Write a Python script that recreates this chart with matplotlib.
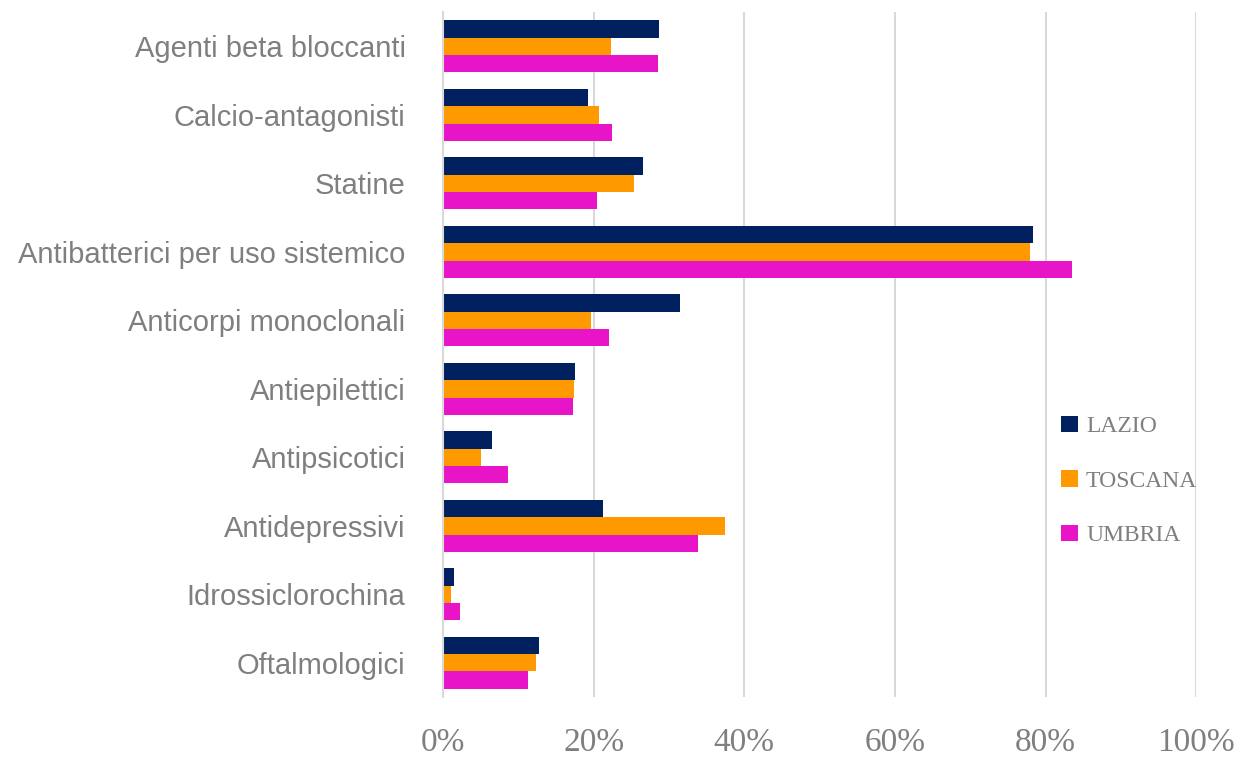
import numpy as np
import matplotlib.pyplot as plt
from matplotlib.ticker import PercentFormatter

categories = ['Agenti beta bloccanti', 'Calcio-antagonisti', 'Statine',
              'Antibatterici per uso sistemico', 'Anticorpi monoclonali',
              'Antiepilettici', 'Antipsicotici', 'Antidepressivi',
              'Idrossiclorochina', 'Oftalmologici']
lazio = [28.7, 19.3, 26.5, 78.4, 31.5, 17.5, 6.5, 21.3, 1.4, 12.7]
toscana = [22.3, 20.7, 25.3, 78.0, 19.6, 17.4, 5.1, 37.4, 1.0, 12.4]
umbria = [28.6, 22.5, 20.4, 83.5, 22.1, 17.3, 8.6, 33.8, 2.2, 11.3]
xticks = [0, 20, 40, 60, 80, 100]

gray = '#7f7f7f'
fig = plt.figure(figsize=(12.47, 7.61), dpi=100)
ax = fig.add_axes([0.3553, 0.084, 0.6039, 0.9])

y = np.arange(len(categories))
h = 0.253
ax.barh(y - h, lazio, height=h, color='#002060', label='LAZIO')
ax.barh(y, toscana, height=h, color='#ff9900', label='TOSCANA')
ax.barh(y + h, umbria, height=h, color='#e815c8', label='UMBRIA')

ax.set_ylim(len(categories) - 0.5, -0.5)
ax.set_xlim(0, 100)
ax.set_xticks(xticks)
ax.xaxis.set_major_formatter(PercentFormatter(decimals=0))
ax.set_yticks(y)
ax.set_yticklabels(categories, fontsize=21, color=gray, family='Liberation Sans')
for lab in ax.get_xticklabels():
    lab.set_family('Liberation Serif')
    lab.set_fontsize(24)
    lab.set_color(gray)
ax.tick_params(axis='x', length=0, pad=22)
ax.tick_params(axis='y', length=0, pad=27)

ax.grid(axis='x', color='#d9d9d9', linewidth=1.5)
ax.set_axisbelow(True)
for s in ['top', 'right', 'bottom']:
    ax.spines[s].set_visible(False)
ax.spines['left'].set_color('#d9d9d9')
ax.spines['left'].set_linewidth(1.5)

leg = ax.legend(loc='center left', bbox_to_anchor=(0.834, 0.368), bbox_transform=fig.transFigure,
                frameon=False, handlelength=0.7, handleheight=0.7, handletextpad=0.35,
                labelspacing=1.4, prop={'family': 'Liberation Serif', 'size': 17})
for t in leg.get_texts():
    t.set_color(gray)

fig.savefig('out.png', dpi=100)
